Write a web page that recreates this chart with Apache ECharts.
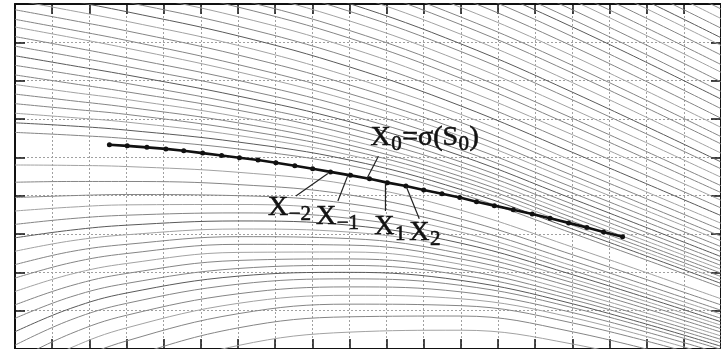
<!DOCTYPE html>
<html><head><meta charset="utf-8">
<script src="https://cdn.jsdelivr.net/npm/echarts@6/dist/echarts.min.js"></script>
<style>html,body{margin:0;padding:0;background:#fff}#c{width:721px;height:349px}</style>
</head><body><div id="c"></div>
<script>
// x positions (axis units) at which every flow line is sampled
const flowX = [0, 1.5, 3, 6, 9, 12, 15, 19];

// gray flow lines, y values at flowX (upper family, descending)
const upperFlowLines = [
  [15.05, 14.78, 14.5, 13.87, 13.06, 12.01, 10.75, 8.87],
  [14.8, 14.53, 14.25, 13.62, 12.81, 11.76, 10.5, 8.62],
  [14.55, 14.28, 14.0, 13.37, 12.56, 11.51, 10.25, 8.37],
  [14.3, 14.03, 13.75, 13.12, 12.31, 11.26, 10.0, 8.12],
  [14.1, 13.83, 13.55, 12.92, 12.11, 11.06, 9.8, 7.92],
  [13.85, 13.58, 13.3, 12.67, 11.86, 10.81, 9.55, 7.67],
  [13.6, 13.33, 13.05, 12.42, 11.61, 10.56, 9.3, 7.42],
  [13.4, 13.13, 12.85, 12.22, 11.41, 10.36, 9.1, 7.22],
  [13.15, 12.88, 12.6, 11.97, 11.16, 10.11, 8.85, 6.97],
  [12.9, 12.63, 12.35, 11.72, 10.91, 9.86, 8.6, 6.72],
  [12.7, 12.43, 12.15, 11.52, 10.71, 9.66, 8.4, 6.52],
  [12.45, 12.18, 11.9, 11.27, 10.46, 9.41, 8.15, 6.27],
  [12.2, 11.93, 11.65, 11.02, 10.21, 9.16, 7.90, 6.02],
  [11.95, 11.68, 11.40, 10.77, 9.96, 8.91, 7.65, 5.78],
  [11.7, 11.43, 11.15, 10.52, 9.71, 8.66, 7.40, 5.54],
  [11.5, 11.23, 10.95, 10.32, 9.51, 8.46, 7.20, 5.35],
  [11.25, 10.98, 10.70, 10.07, 9.26, 8.21, 6.95, 5.11],
  [11.0, 10.73, 10.45, 9.82, 9.01, 7.96, 6.70, 4.88],
  [10.8, 10.53, 10.25, 9.62, 8.81, 7.76, 6.50, 4.70],
  [10.55, 10.28, 10.0, 9.37, 8.56, 7.51, 6.26, 4.48],
  [10.3, 10.03, 9.75, 9.12, 8.31, 7.26, 6.02, 4.26],
  [10.1, 9.83, 9.55, 8.92, 8.11, 7.06, 5.82, 4.08],
  [9.85, 9.58, 9.30, 8.67, 7.86, 6.81, 5.59, 3.88],
  [9.6, 9.33, 9.05, 8.42, 7.61, 6.58, 5.36, 3.68],
  [9.35, 9.08, 8.80, 8.17, 7.36, 6.34, 5.13, 3.48],
  [9.1, 8.83, 8.55, 7.92, 7.11, 6.12, 4.91, 3.28],
  [8.85, 8.58, 8.30, 7.67, 6.89, 5.91, 4.72, 3.11],
  [8.6, 8.33, 8.05, 7.42, 6.66, 5.70, 4.53, 2.94],
  [8.4, 8.13, 7.85, 7.23, 6.49, 5.55, 4.39, 2.82]
];

// gray flow lines just above the dotted orbit
const middleFlowLines = [
  [8.15, 7.88, 7.60, 7.01, 6.29, 5.36, 4.22, 2.67],
  [7.9, 7.64, 7.37, 6.80, 6.10, 5.19, 4.07, 2.54],
  [7.65, 7.40, 7.15, 6.60, 5.93, 5.04, 3.92, 2.41],
  [7.4, 7.17, 6.93, 6.40, 5.76, 4.88, 3.78, 2.29],
  [7.15, 6.93, 6.71, 6.23, 5.60, 4.75, 3.66, 2.18],
  [6.9, 6.70, 6.51, 6.06, 5.45, 4.62, 3.54, 2.08],
  [6.65, 6.48, 6.31, 5.90, 5.32, 4.50, 3.43, 1.98],
  [6.4, 6.26, 6.12, 5.73, 5.19, 4.39, 3.33, 1.89],
  [6.15, 6.04, 5.92, 5.57, 5.06, 4.28, 3.23, 1.80],
  [5.9, 5.82, 5.71, 5.40, 4.93, 4.16, 3.13, 1.71],
  [5.65, 5.58, 5.49, 5.22, 4.79, 4.04, 3.02, 1.61]
];

// gray flow lines below the orbit (rising at the left, falling at the right)
const lowerFlowLines = [
  [4.8, 4.79, 4.76, 4.61, 4.29, 3.62, 2.66, 1.31],
  [4.35, 4.37, 4.37, 4.29, 4.02, 3.39, 2.46, 1.15],
  [3.95, 4.00, 4.03, 4.00, 3.79, 3.20, 2.30, 1.01],
  [3.6, 3.70, 3.76, 3.77, 3.60, 3.05, 2.17, 0.91],
  [3.25, 3.40, 3.49, 3.55, 3.41, 2.90, 2.05, 0.80],
  [2.9, 3.10, 3.23, 3.34, 3.23, 2.76, 1.94, 0.71],
  [2.55, 2.82, 2.98, 3.13, 3.05, 2.62, 1.83, 0.62],
  [2.2, 2.54, 2.73, 2.93, 2.88, 2.49, 1.73, 0.53],
  [1.85, 2.25, 2.49, 2.73, 2.71, 2.35, 1.62, 0.44],
  [1.5, 1.95, 2.23, 2.52, 2.53, 2.21, 1.50, 0.34],
  [1.15, 1.65, 1.97, 2.31, 2.35, 2.07, 1.39, 0.25],
  [0.8, 1.36, 1.71, 2.10, 2.18, 1.93, 1.29, 0.16],
  [0.45, 1.06, 1.46, 1.90, 2.00, 1.79, 1.18, 0.07],
  [0.1, 0.76, 1.19, 1.69, 1.83, 1.66, 1.08, -0.01],
  [-0.3, 0.40, 0.88, 1.44, 1.62, 1.49, 0.95, -0.12],
  [-0.7, 0.03, 0.55, 1.19, 1.40, 1.31, 0.82, -0.23],
  [-1.1, -0.35, 0.21, 0.92, 1.17, 1.13, 0.68, -0.33],
  [-1.6, -0.85, -0.24, 0.55, 0.84, 0.86, 0.45, -0.52],
  [-2.2, -1.42, -0.78, 0.09, 0.44, 0.49, 0.13, -0.77]
];

// the dotted black orbit
const orbitX = [2.54, 3.02, 3.55, 4.06, 4.54, 5.05, 5.56, 6.04, 6.54, 7.02, 7.53, 8.01, 8.49, 9.03, 9.54,
                10.02, 10.52, 11.00, 11.49, 11.97, 12.42, 12.90, 13.41, 13.92, 14.40, 14.90, 15.39, 15.84, 16.35];
const orbitY = [5.33, 5.30, 5.26, 5.22, 5.17, 5.11, 5.05, 4.99, 4.93, 4.86, 4.78, 4.70, 4.62, 4.53, 4.44,
                4.34, 4.25, 4.15, 4.05, 3.95, 3.84, 3.74, 3.63, 3.52, 3.41, 3.29, 3.17, 3.05, 2.93];

// annotation labels: text pieces ('m' main, 's' subscript), anchor (left edge, mid-height) and pointer
const labelParts = [
  [['X', 'm'], ['0', 's'], ['=σ(S', 'm'], ['0', 's'], [')', 'm']],
  [['X', 'm'], ['−2', 's']],
  [['X', 'm'], ['−1', 's']],
  [['X', 'm'], ['1', 's']],
  [['X', 'm'], ['2', 's']]
];
const labelAnchors = [[9.57, 5.51], [6.81, 3.68], [8.10, 3.46], [9.67, 3.18], [10.61, 3.03]];
const pointerFrom = [[9.46, 4.43], [8.42, 4.58], [8.95, 4.51], [9.97, 4.33], [10.53, 4.24]];
const pointerTo = [[9.78, 5.03], [7.56, 3.99], [8.69, 3.86], [9.97, 3.60], [10.88, 3.40]];

// axis extents
const xMin = 0, xMax = 19, yMin = 0, yMax = 9;

const chart = echarts.init(document.getElementById('c'), null, {renderer: 'canvas'});

const series = [];
const allFlow = upperFlowLines.concat(middleFlowLines, lowerFlowLines);
allFlow.forEach((ys, i) => {
  let color = '#858585';
  if (i % 3 === 1) color = '#a2a2a2';
  if (i % 7 === 3) color = '#5a5a5a';
  series.push({
    type: 'line', silent: true, symbol: 'none', smooth: 0.4, clip: true, z: 2,
    lineStyle: {color: color, width: 1},
    data: ys.map((y, k) => [flowX[k], y])
  });
});
series.push({
  type: 'line', silent: true, symbol: 'circle', symbolSize: 5, z: 5, clip: true,
  lineStyle: {color: '#111', width: 2.6}, itemStyle: {color: '#111'},
  data: orbitX.map((x, k) => [x, orbitY[k]])
});
pointerFrom.forEach((p, i) => {
  series.push({
    type: 'line', silent: true, symbol: 'none', z: 6,
    lineStyle: {color: '#222', width: 1.2},
    data: [p, pointerTo[i]]
  });
});

function axisCommon(pos, min, max, split) {
  return {
    type: 'value', position: pos, min: min, max: max, interval: 1,
    axisLine: {show: true, onZero: false, lineStyle: {color: '#111', width: 2}},
    axisTick: {show: true, inside: true, length: 10, lineStyle: {color: '#111', width: 1.5}},
    axisLabel: {show: false},
    splitLine: {show: split, lineStyle: {color: '#a0a0a0', width: 1, type: [2, 2]}}
  };
}

chart.setOption({
  animation: false,
  backgroundColor: '#fff',
  grid: {left: 15, top: 4, right: -5, bottom: -2, containLabel: false},
  xAxis: [axisCommon('bottom', xMin, xMax, true), axisCommon('top', xMin, xMax, false)],
  yAxis: [axisCommon('left', yMin, yMax, true), axisCommon('right', yMin, yMax, false)],
  series: series
});

// labels
const mainFont = '28px "Liberation Serif", "DejaVu Serif", serif';
const subFont = '21px "Liberation Serif", "DejaVu Serif", serif';
const ctx = document.createElement('canvas').getContext('2d');
function w(t, f) { ctx.font = f; return ctx.measureText(t).width; }
const graphics = [];
labelParts.forEach((parts, i) => {
  const p = chart.convertToPixel({gridIndex: 0}, labelAnchors[i]);
  let x = p[0];
  parts.forEach(([t, kind]) => {
    const f = kind === 'm' ? mainFont : subFont;
    graphics.push({
      type: 'text', x: x, y: p[1] + (kind === 's' ? 7 : 0), z: 10, silent: true,
      style: {text: t, font: f, fill: '#111', stroke: '#111', lineWidth: 0.6, align: 'left', verticalAlign: 'middle'}
    });
    x += w(t, f) + 0.5;
  });
});
chart.setOption({graphic: graphics});
</script>
</body></html>
